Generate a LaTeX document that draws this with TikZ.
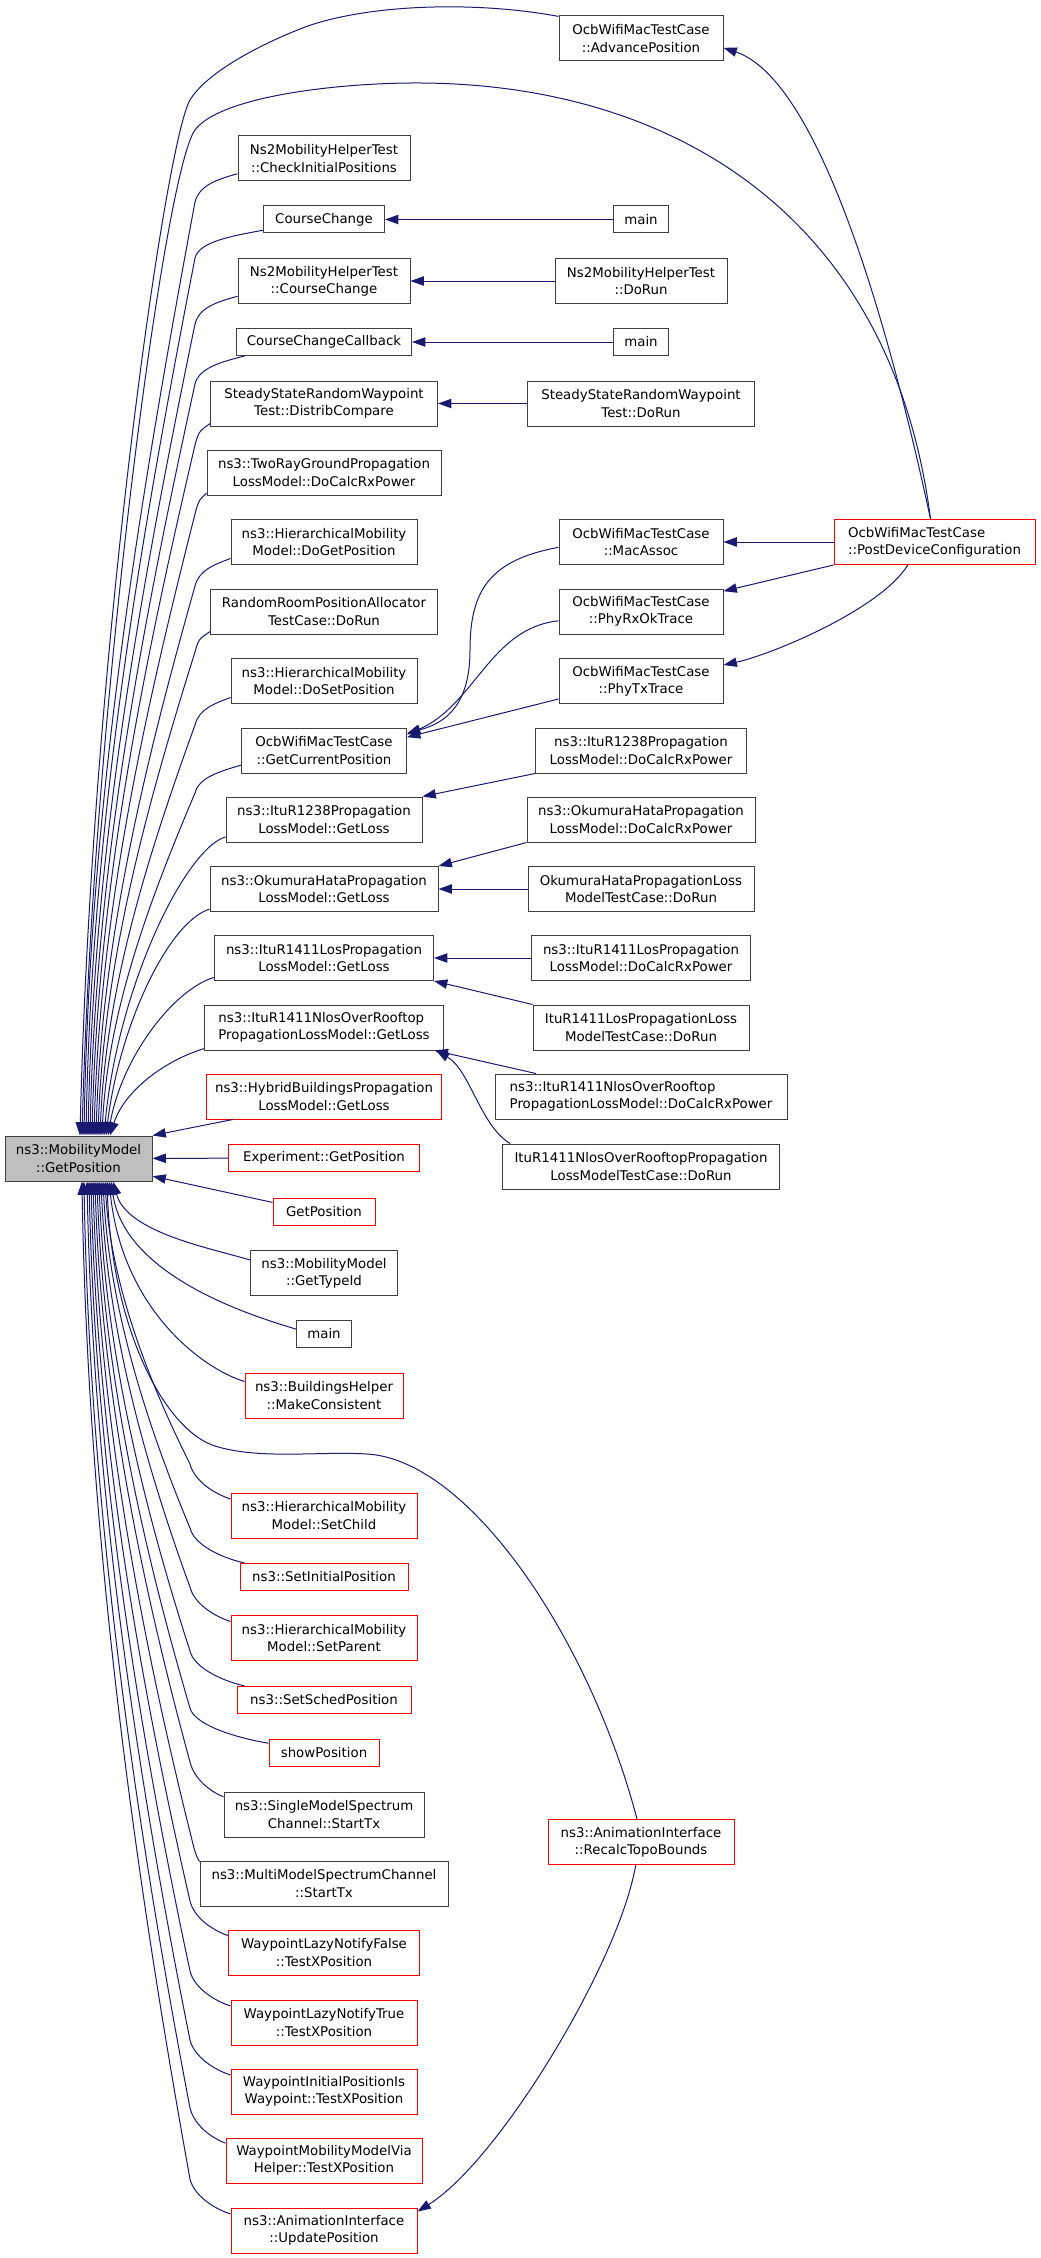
\documentclass[tikz,border=0pt]{standalone}
\usepackage{fontspec}
\setmainfont{DejaVu Sans}
\usepackage{tikz}
\usetikzlibrary{arrows.meta}
\definecolor{callblue}{HTML}{191970}
\definecolor{rootgray}{HTML}{BFBFBF}
\tikzstyle{tbox} = [draw=black!75, fill=white, line width=0.75pt, inner sep=0pt, align=center, minimum height=33.75pt, font=\fontsize{10}{13}\selectfont]
\tikzstyle{tred} = [tbox, draw=red]
\tikzstyle{oneline} = [minimum height=20.25pt]
\tikzstyle{call} = [draw=callblue, line width=0.75pt, -{Triangle[length=10pt,width=7pt]}]
\tikzset{wd/.style={minimum width=#1*0.75pt}}

\begin{document}
\begin{tikzpicture}[x=0.75pt, y=-0.75pt]
\useasboundingbox (0,0) rectangle (1040,2258);
\node [tbox, fill=rootgray, wd=147] (root) at (78.5,1158.5) {ns3::MobilityModel\\::GetPosition};

\node [tbox, wd=172] (checkinit) at (324,158.5) {Ns2MobilityHelperTest\\::CheckInitialPositions};
\node [tbox, oneline, wd=121] (coursechange) at (324,219.5) {CourseChange};
\node [tbox, wd=172] (ns2cc) at (324,281) {Ns2MobilityHelperTest\\::CourseChange};
\node [tbox, oneline, wd=175] (ccc) at (324,342) {CourseChangeCallback};
\node [tbox, wd=227] (distrib) at (324,403.5) {SteadyStateRandomWaypoint\\Test::DistribCompare};
\node [tbox, wd=234] (tworay) at (324,472.5) {ns3::TwoRayGroundPropagation\\LossModel::DoCalcRxPower};
\node [tbox, wd=186] (dogetpos) at (324,542) {ns3::HierarchicalMobility\\Model::DoGetPosition};
\node [tbox, wd=227] (randroom) at (324,611.5) {RandomRoomPositionAllocator\\TestCase::DoRun};
\node [tbox, wd=186] (dosetpos) at (324,681) {ns3::HierarchicalMobility\\Model::DoSetPosition};
\node [tbox, wd=165] (getcurpos) at (324,750.5) {OcbWifiMacTestCase\\::GetCurrentPosition};
\node [tbox, wd=196] (itu1238) at (324,819.5) {ns3::ItuR1238Propagation\\LossModel::GetLoss};
\node [tbox, wd=228] (okumura) at (324,889) {ns3::OkumuraHataPropagation\\LossModel::GetLoss};
\node [tbox, wd=219] (itu1411) at (324,958) {ns3::ItuR1411LosPropagation\\LossModel::GetLoss};
\node [tbox, wd=239, align=left] (nlos) at (324,1027.5) {ns3::ItuR1411NlosOverRooftop\\PropagationLossModel::GetLoss};
\node [tred, wd=235] (hybrid) at (324,1096.5) {ns3::HybridBuildingsPropagation\\LossModel::GetLoss};
\node [tred, oneline, wd=191] (experiment) at (324,1158) {Experiment::GetPosition};
\node [tred, oneline, wd=102] (getpos) at (324,1211.5) {GetPosition};
\node [tbox, wd=147] (gettypeid) at (324,1273) {ns3::MobilityModel\\::GetTypeId};
\node [tbox, oneline, wd=55] (main3) at (324,1334) {main};
\node [tred, wd=158] (makecons) at (324,1395.5) {ns3::BuildingsHelper\\::MakeConsistent};
\node [tred, wd=186] (setchild) at (324,1515.5) {ns3::HierarchicalMobility\\Model::SetChild};
\node [tred, oneline, wd=168] (setinit) at (324,1577) {ns3::SetInitialPosition};
\node [tred, wd=186] (setparent) at (324,1638) {ns3::HierarchicalMobility\\Model::SetParent};
\node [tred, oneline, wd=174] (setsched) at (324,1700) {ns3::SetSchedPosition};
\node [tred, oneline, wd=110] (showpos) at (324,1753) {showPosition};
\node [tbox, wd=200] (single) at (324,1814.5) {ns3::SingleModelSpectrum\\Channel::StartTx};
\node [tbox, wd=248] (multi) at (324,1883.5) {ns3::MultiModelSpectrumChannel\\::StartTx};
\node [tred, wd=191] (lazyF) at (324,1952.5) {WaypointLazyNotifyFalse\\::TestXPosition};
\node [tred, wd=186] (lazyT) at (324,2022.5) {WaypointLazyNotifyTrue\\::TestXPosition};
\node [tred, wd=186] (initpos) at (324,2091.5) {WaypointInitialPositionIs\\Waypoint::TestXPosition};
\node [tred, wd=196] (via) at (324,2160.5) {WaypointMobilityModelVia\\Helper::TestXPosition};
\node [tred, wd=186] (updatepos) at (324,2230.5) {ns3::AnimationInterface\\::UpdatePosition};

\node [tbox, wd=164] (advpos) at (641,38.5) {OcbWifiMacTestCase\\::AdvancePosition};
\node [tbox, oneline, wd=55] (main1) at (641,219.5) {main};
\node [tbox, wd=172] (ns2dorun) at (641,281) {Ns2MobilityHelperTest\\::DoRun};
\node [tbox, oneline, wd=55] (main2) at (641,342) {main};
\node [tbox, wd=227] (ssdorun) at (641,403.5) {SteadyStateRandomWaypoint\\Test::DoRun};
\node [tbox, wd=164] (macassoc) at (641,542) {OcbWifiMacTestCase\\::MacAssoc};
\node [tbox, wd=164] (phyrx) at (641,611.5) {OcbWifiMacTestCase\\::PhyRxOkTrace};
\node [tbox, wd=164] (phytx) at (641,681) {OcbWifiMacTestCase\\::PhyTxTrace};
\node [tbox, wd=211] (itu1238rx) at (641,750.5) {ns3::ItuR1238Propagation\\LossModel::DoCalcRxPower};
\node [tbox, wd=228] (okurx) at (641,819.5) {ns3::OkumuraHataPropagation\\LossModel::DoCalcRxPower};
\node [tbox, wd=226] (okutest) at (641,889) {OkumuraHataPropagationLoss\\ModelTestCase::DoRun};
\node [tbox, wd=219] (itu1411rx) at (641,958) {ns3::ItuR1411LosPropagation\\LossModel::DoCalcRxPower};
\node [tbox, wd=216] (itu1411test) at (641,1027.5) {ItuR1411LosPropagationLoss\\ModelTestCase::DoRun};
\node [tbox, wd=292, align=left] (nlosrx) at (641,1096.5) {ns3::ItuR1411NlosOverRooftop\\PropagationLossModel::DoCalcRxPower};
\node [tbox, wd=277] (nlostest) at (641,1166.5) {ItuR1411NlosOverRooftopPropagation\\LossModelTestCase::DoRun};
\node [tred, wd=186] (recalc) at (641,1842) {ns3::AnimationInterface\\::RecalcTopoBounds};

\node [tred, wd=201, align=left] (postdev) at (934.5,542) {OcbWifiMacTestCase\\::PostDeviceConfiguration};

% callers above the root
\foreach \n/\s/\c/\b in {checkinit/4.1/-22/202, coursechange/5.6/-33/258, ns2cc/7.1/-22/324, ccc/8.6/-24/384,
  distrib/10.1/-8/445, tworay/11.6/-6/514, dogetpos/13.1/-16/586, randroom/14.6/-8/652,
  dosetpos/16.1/-16/725, getcurpos/17.6/-20/793}{
  \pgfmathsetmacro\L{0.32*(1136-\b)}
  \pgfmathsetmacro\K{0.36*(1136-\b)}
  \pgfmathsetmacro\d{-0.5*(195-78.5-\s/0.75)}
  \draw[call] (\n.190) .. controls +(\c,6) and +(4,-16) .. (195,\b) .. controls +(\d,\L) and +(6,-\K) .. ([xshift=\s pt]root.north);
}
\foreach \n/\s/\k in {itu1238/19.1/150, okumura/20.6/113, itu1411/22.1/79, nlos/23.6/44}
  \draw[call] (\n.190) .. controls +(-40,12) and +(14,-\k) .. ([xshift=\s pt]root.north);

% callers below the root
\foreach \n/\s/\k in {gettypeid/25.9/51, main3/24.4/96, makecons/22.9/130}
  \draw[call] (\n.170) .. controls +(-40,-12) and +(14,\k) .. ([xshift=\s pt]root.south);
\foreach \n/\s/\c/\b in {setchild/19.9/-18/1464, setinit/18.4/-26/1528, setparent/16.9/-18/1587,
  setsched/15.4/-25/1651, showpos/13.9/-36/1708, single/12.4/-15/1762, multi/10.9/-4/1832,
  lazyF/9.4/-17/1901, lazyT/7.9/-18/1971, initpos/6.4/-18/2040, via/4.1/-16/2108, updatepos/2.6/-18/2179}{
  \pgfmathsetmacro\L{0.3*(\b-1181)}
  \pgfmathsetmacro\K{0.36*(\b-1181)}
  \pgfmathsetmacro\d{-0.5*(190-78.5-\s/0.75)}
  \draw[call] (\n.170) .. controls +(\c,-6) and +(4,16) .. (190,\b) .. controls +(\d,-\L) and +(6,\K) .. ([xshift=\s pt]root.south);
}

\draw[call] ([xshift=20pt]hybrid.south west) -- (root.north east);
\draw[call] (experiment) -- (root);
\draw[call] (getpos.170) -- ([yshift=4pt]root.south east);

\draw[call] (advpos.165) .. controls (470,0) and (360,5) .. (300,29) .. controls (252,48) and (205,75) .. (190,100)
  .. controls (166,140) and (92,650) .. ([xshift=1.1pt]root.north);
\draw[call] ([xshift=-3pt]postdev.north) .. controls (890,200) and (650,70) .. (377,84) .. controls (297,88) and (215,103) .. (195,130)
  .. controls (165,170) and (94,700) .. ([xshift=2.6pt]root.north);
\draw[call] ([xshift=-3pt]postdev.north) .. controls (890,330) and (820,80) .. ([yshift=-7pt]advpos.east);
\draw[call] (postdev) -- (macassoc);
\draw[call] (postdev.south west) -- ([yshift=-2pt]phyrx.north east);
\draw[call] ([xshift=-20pt]postdev.south) .. controls (880,610) and (770,655) .. ([yshift=12pt]phytx.east);

\draw[call] (main1) -- (coursechange);
\draw[call] (ns2dorun) -- (ns2cc);
\draw[call] (main2) -- (ccc);
\draw[call] (ssdorun) -- (distrib);

\draw[call] ([yshift=-4pt]macassoc.west) .. controls (490,560) and (470,590) .. (470,650) .. controls (470,700) and (450,722) .. ([yshift=13pt]getcurpos.east);
\draw[call] ([yshift=-7pt]phyrx.west) .. controls (490,628) and (475,705) .. ([yshift=12pt]getcurpos.east);
\draw[call] ([yshift=-13.5pt]phytx.west) -- ([yshift=10pt]getcurpos.east);

\draw[call] (itu1238rx.south west) -- (itu1238.north east);
\draw[call] (okurx.south west) -- (okumura.north east);
\draw[call] (okutest) -- (okumura);
\draw[call] (itu1411rx) -- (itu1411);
\draw[call] (itu1411test.north west) -- (itu1411.south east);
\draw[call] ([xshift=31pt]nlosrx.north west) -- ([xshift=-7pt]nlos.south east);
\draw[call] ([xshift=6pt]nlostest.north west) .. controls (480,1125) and (470,1070) .. ([xshift=-6pt]nlos.south east);

\draw[call] ([xshift=-3pt]recalc.north) .. controls (590,1640) and (470,1460) .. (367,1454) .. controls (320,1451) and (260,1460) .. (215,1446)
  .. controls (165,1430) and (112,1330) .. ([xshift=21.4pt]root.south);
\draw[call] ([xshift=-4pt]recalc.south) .. controls (620,1960) and (500,2160) .. ([yshift=-3pt]updatepos.north east);
\end{tikzpicture}
\end{document}
